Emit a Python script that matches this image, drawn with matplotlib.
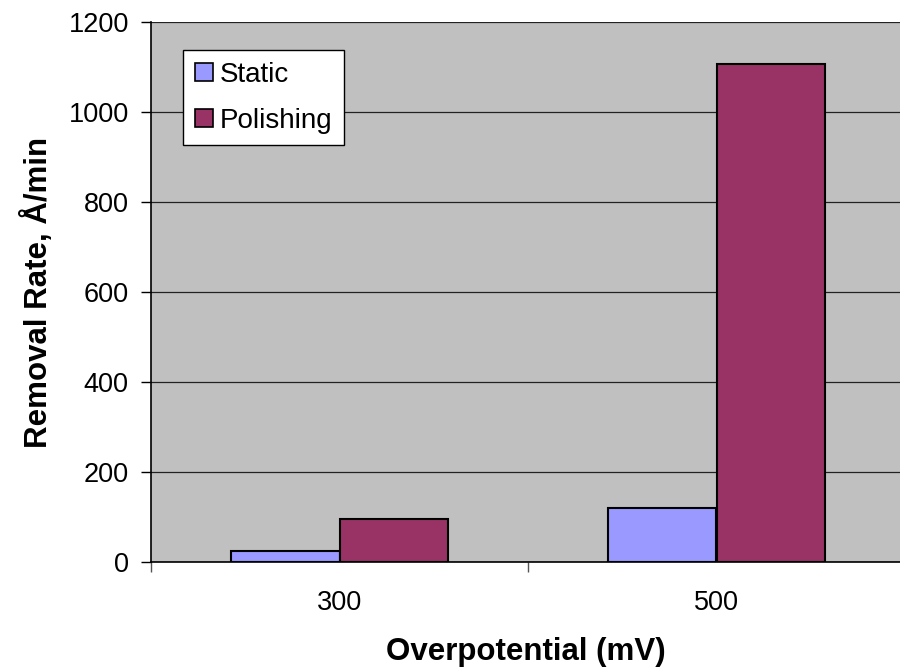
import matplotlib
matplotlib.use("Agg")
import matplotlib.pyplot as plt
import numpy as np
from matplotlib.lines import Line2D

plt.rcParams['font.family'] = ['Liberation Sans', 'DejaVu Sans']

categories = ['300', '500']
static = [24, 120]
polishing = [96, 1107]
series_names = ['Static', 'Polishing']
colors = ['#9999FF', '#993366']

fig = plt.figure(figsize=(9, 6.69), dpi=100)
ax = fig.add_axes([151/900, 107/669, 749/900, 540/669])
ax.set_facecolor('#C0C0C0')

x = np.arange(len(categories))
w = 0.2865
ax.bar(x - w/2, static, w, color=colors[0], edgecolor='black', linewidth=1.5, zorder=3)
ax.bar(x + w/2, polishing, w, color=colors[1], edgecolor='black', linewidth=1.5, zorder=3)

ax.set_xlim(-0.5, -0.5 + 749/377)
ax.set_ylim(0, 1200)
ax.set_yticks(range(0, 1201, 200))
ax.yaxis.grid(True, color='#222222', linewidth=0.9, zorder=0)
ax.set_axisbelow(True)

ax.set_xticks(x)
ax.set_xticklabels(categories)
ax.set_xticks([-0.5, 0.5], minor=True)
ax.tick_params(axis='x', which='major', length=0, pad=20, labelsize=19.5)
ax.tick_params(axis='x', which='minor', length=7, width=1, color='#555555', direction='out')
ax.tick_params(axis='y', length=7, width=1, direction='out', pad=9, labelsize=19.5)

for s in ['top', 'right']:
    ax.spines[s].set_visible(False)
ax.spines['left'].set_linewidth(1.2)
ax.spines['bottom'].set_linewidth(1.2)

ax.set_xlabel('Overpotential (mV)', fontsize=22.5, fontweight='bold', va='center')
ax.xaxis.set_label_coords(0.5, (17 - 107) / 540)
ax.set_ylabel('Removal Rate, \u00c5/min', fontsize=22.5, fontweight='bold', va='center')
ax.yaxis.set_label_coords((38 - 151) / 749, 0.5)

handles = [Line2D([], [], linestyle='none', marker='s', markersize=13.5,
                  markerfacecolor=c, markeredgecolor='black', markeredgewidth=1.2)
           for c in colors]
leg = ax.legend(handles, series_names, loc='upper left',
                bbox_to_anchor=((183 - 151) / 749, (562 - 50) / 540),
                borderaxespad=0, fontsize=20, frameon=True, fancybox=False,
                edgecolor='black', framealpha=1, handlelength=0.7,
                handletextpad=0.2, labelspacing=0.72, borderpad=0.42)
leg.get_frame().set_linewidth(1.0)

plt.savefig('out.png', dpi=100)
